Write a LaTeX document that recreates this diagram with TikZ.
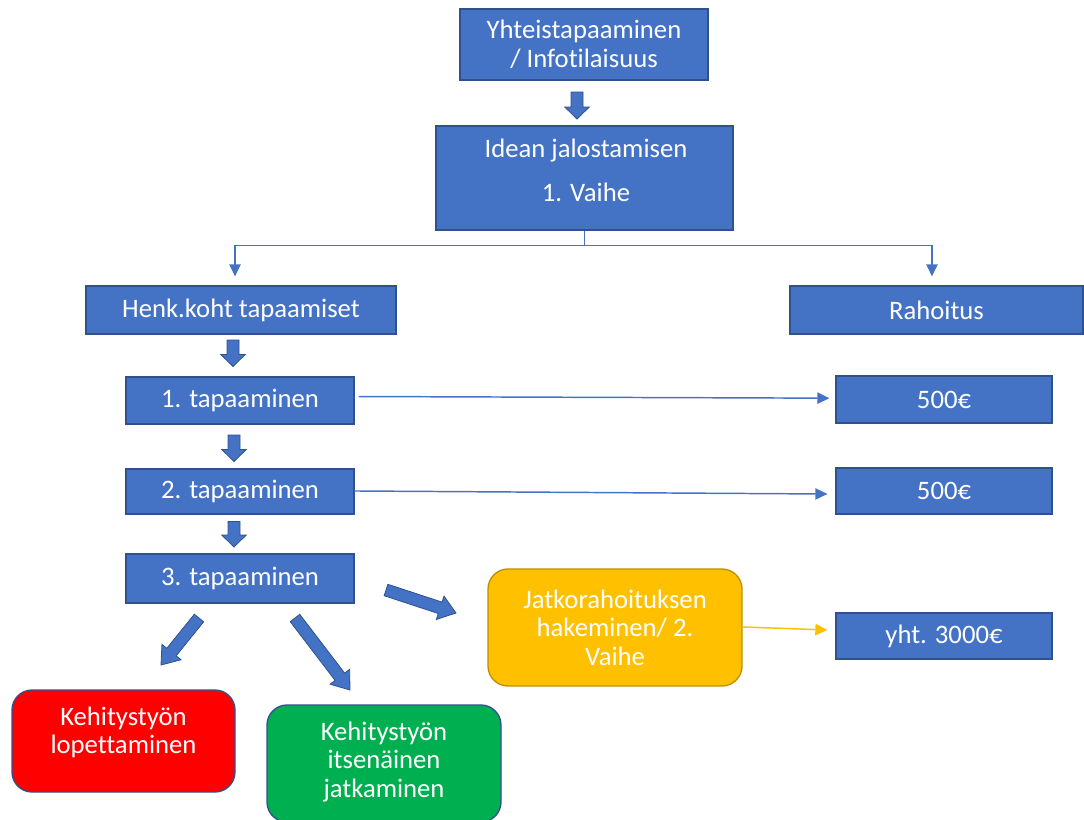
\documentclass[tikz,border=0pt]{standalone}
\usepackage{fontspec}
\setmainfont[Ligatures=NoCommon]{Carlito}
\usetikzlibrary{calc,arrows.meta}
\definecolor{bfill}{HTML}{4472C4}
\definecolor{bbord}{HTML}{2F528F}
\definecolor{yfill}{HTML}{FFC000}
\definecolor{ybord}{HTML}{BF9000}
\definecolor{rfill}{HTML}{FF0000}
\definecolor{gfill}{HTML}{00B050}
\newcommand\blkarrow[3]{%
  \path ($(#2)!#3!(#1)$) coordinate (hb);
  \filldraw[blockarr] ($(#1)!4.5pt!90:(#2)$) -- ($(hb)!4.5pt!90:(#2)$) -- ($(hb)!9.2pt!90:(#2)$) -- (#2)
    -- ($(hb)!9.2pt!-90:(#2)$) -- ($(hb)!4.5pt!-90:(#2)$) -- ($(#1)!4.5pt!-90:(#2)$) -- cycle;}
\begin{document}
\begin{tikzpicture}[x=0.75pt,y=-0.75pt,
  fnt/.style={font=\fontsize{20}{21.5}\selectfont},
  box/.style={draw=bbord,fill=bfill,line width=1pt,text=white,fnt,align=center,inner sep=0pt},
  rbox/.style={box,rounded corners=15pt},
  txt/.style={text=white,fnt,align=center,inner sep=0pt},
  conn/.style={draw=bfill,line width=1.1pt},
  tip/.style={conn,-{Triangle[length=9pt,width=8.5pt]}},
  blockarr/.style={fill=bfill,draw=bbord,line width=0.6pt,line join=miter}]
\useasboundingbox (0,0) rectangle (1084,819);

\node[box,minimum width=186pt,minimum height=53.25pt] (b1) at (584,44.5) {Yhteistapaaminen\\/ Infotilaisuus};
\node[box,minimum width=222.75pt,minimum height=78pt] (b2) at (584.5,178) {};
\node[txt] (b2t) at (586,170) {Idean jalostamisen\\[11.5pt]1. Vaihe};

\node[box,minimum width=232.5pt,minimum height=36pt] (henk) at (241,310) {Henk.koht tapaamiset};
\node[box,minimum width=219.75pt,minimum height=36pt] (rah) at (936.5,310) {Rahoitus};

\node[box,minimum width=171pt,minimum height=35.25pt] (t1) at (240,400.5) {1. tapaaminen};
\node[box,minimum width=171pt,minimum height=33.75pt] (t2) at (240,491.5) {2. tapaaminen};
\node[box,minimum width=171pt,minimum height=36.75pt] (t3) at (240,578.5) {3. tapaaminen};

\node[box,minimum width=162pt,minimum height=35.25pt] (r1) at (944,399.5) {500€};
\node[box,minimum width=162pt,minimum height=34.5pt] (r2) at (944,491) {500€};
\node[box,minimum width=162pt,minimum height=34.5pt] (r3) at (944,636) {yht. 3000€};

\node[rbox,fill=yfill,draw=ybord,minimum width=190.5pt,minimum height=87.75pt] (jatko) at (615,627.5) {Jatkorahoituksen\\hakeminen/ 2.\\Vaihe};

\node[rbox,fill=rfill,minimum width=167.25pt,minimum height=76.5pt] (red) at (123.5,741) {};
\node[txt] (redt) at (123.5,732.5) {Kehitystyön\\lopettaminen};
\node[rbox,fill=gfill,minimum width=175.5pt,minimum height=87.75pt] (green) at (384,763.5) {};
\node[txt] (greent) at (384,762) {Kehitystyön\\itsenäinen\\jatkaminen};

% thin connectors
\draw[conn] (b2.south) -- ++(0,15) coordinate (split);
\draw[tip] (split) -| ([xshift=-4.5pt,yshift=6.75pt]henk.north);
\draw[tip] (split) -| ([xshift=-3.4pt,yshift=6.75pt]rah.north);
\draw[tip] ([xshift=3pt,yshift=3pt]t1.east) -- ([xshift=-4.5pt,yshift=1pt]r1.west);
\draw[tip] ([yshift=0.4pt]t2.east) -- ([xshift=-6pt,yshift=-2.25pt]r2.west);
\draw[tip,draw=yfill] ([yshift=0.4pt]jatko.east) -- ([xshift=-6pt,yshift=4.5pt]r3.west);

% block arrows
\coordinate (a1s) at (577,92);  \coordinate (a1e) at (577,119);
\coordinate (a2s) at (233,340); \coordinate (a2e) at (233,366.5);
\coordinate (a3s) at (234,435); \coordinate (a3e) at (234,461.5);
\coordinate (a4s) at (234,521.5); \coordinate (a4e) at (234,547);
\coordinate (a5s) at (386,590); \coordinate (a5e) at (456,613);
\coordinate (a6s) at (199,618); \coordinate (a6e) at (161,665);
\coordinate (a7s) at (295,618); \coordinate (a7e) at (350,690);
\blkarrow{a1s}{a1e}{9pt}
\blkarrow{a2s}{a2e}{9pt}
\blkarrow{a3s}{a3e}{9pt}
\blkarrow{a4s}{a4e}{9pt}
\blkarrow{a5s}{a5e}{12.5pt}
\blkarrow{a6s}{a6e}{12.5pt}
\blkarrow{a7s}{a7e}{12.5pt}
\end{tikzpicture}
\end{document}
